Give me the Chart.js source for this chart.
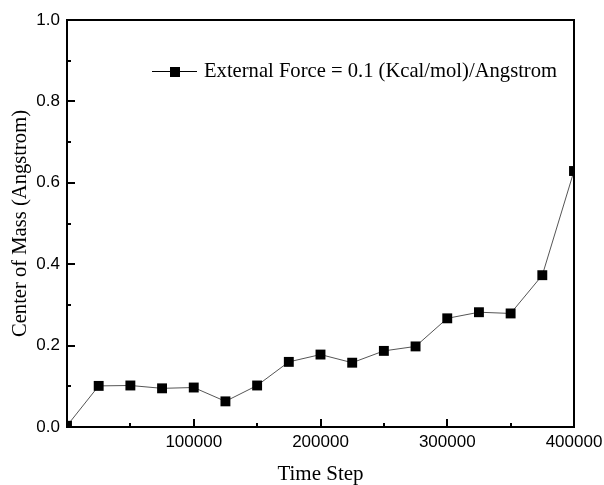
<!doctype html>
<html>
<head>
	<title>Center of Mass vs Time Step</title>
	<script src="https://cdn.jsdelivr.net/npm/chart.js@4/dist/chart.umd.min.js"></script>
	<style type="text/css">
		html, body { margin: 0; padding: 0; background: #fff; }
		#container { width: 604px; height: 485px; }
	</style>
</head>
<body>
	<div id="container">
		<canvas id="canvas"></canvas>
	</div>
	<script>
		// data
		var timeSteps = [0, 25000, 50000, 75000, 100000, 125000, 150000, 175000, 200000,
			225000, 250000, 275000, 300000, 325000, 350000, 375000, 400000];
		var comValues = [0.003, 0.101, 0.102, 0.095, 0.097, 0.063, 0.102, 0.160, 0.178,
			0.158, 0.187, 0.198, 0.267, 0.282, 0.279, 0.373, 0.629];
		var seriesLabel = 'External Force = 0.1 (Kcal/mol)/Angstrom';
		var xMajor = [0, 100000, 200000, 300000, 400000];
		var xMinor = [50000, 150000, 250000, 350000];
		var yMajor = [0, 0.2, 0.4, 0.6, 0.8, 1.0];
		var yMinor = [0.1, 0.3, 0.5, 0.7, 0.9];

		var points = timeSteps.map(function(t, i) { return {x: t, y: comValues[i]}; });

		// frame, inward ticks and the in-plot legend
		var framePlugin = {
			id: 'frame',
			afterDraw: function(chart) {
				var ctx = chart.ctx;
				var a = chart.chartArea;
				var xs = chart.scales.x, ys = chart.scales.y;
				ctx.save();
				ctx.strokeStyle = '#000';
				ctx.lineWidth = 2;
				ctx.strokeRect(a.left, a.top, a.right - a.left, a.bottom - a.top);
				ctx.beginPath();
				yMajor.forEach(function(v) {
					var py = Math.round(ys.getPixelForValue(v));
					ctx.moveTo(a.left, py); ctx.lineTo(a.left + 8, py);
				});
				yMinor.forEach(function(v) {
					var py = Math.round(ys.getPixelForValue(v));
					ctx.moveTo(a.left, py); ctx.lineTo(a.left + 4, py);
				});
				xMajor.forEach(function(v) {
					var px = Math.round(xs.getPixelForValue(v));
					ctx.moveTo(px, a.bottom); ctx.lineTo(px, a.bottom - 8);
				});
				xMinor.forEach(function(v) {
					var px = Math.round(xs.getPixelForValue(v));
					ctx.moveTo(px, a.bottom); ctx.lineTo(px, a.bottom - 4);
				});
				ctx.stroke();

				// legend
				var ly = 71;
				ctx.lineWidth = 1;
				ctx.beginPath();
				ctx.moveTo(152, ly + 0.5); ctx.lineTo(197, ly + 0.5);
				ctx.stroke();
				ctx.fillStyle = '#000';
				ctx.fillRect(170, ly - 4, 10, 10);
				ctx.font = '20.6px "Liberation Serif"';
				ctx.textBaseline = 'middle';
				ctx.textAlign = 'left';
				ctx.fillText(seriesLabel, 204, ly + 1);
				ctx.restore();
			}
		};

		window.onload = function() {
			var ctx = document.getElementById('canvas').getContext('2d');
			window.myChart = new Chart(ctx, {
				type: 'line',
				data: {
					datasets: [{
						label: seriesLabel,
						data: points,
						borderColor: '#555',
						borderWidth: 1,
						pointStyle: 'rect',
						pointRadius: 7,
						pointBackgroundColor: '#000',
						pointBorderColor: '#000',
						pointBorderWidth: 0,
						tension: 0,
						clip: 0
					}]
				},
				options: {
					responsive: true,
					maintainAspectRatio: false,
					animation: false,
					layout: {
						padding: {left: 0, right: 30, top: 20, bottom: 0}
					},
					plugins: {
						legend: {display: false},
						tooltip: {enabled: false}
					},
					scales: {
						x: {
							type: 'linear',
							min: 0,
							max: 400000,
							grid: {display: false, drawTicks: false},
							border: {display: false},
							afterFit: function(scale) {
								scale.height = 58;
								scale.paddingLeft = 0;
								scale.paddingRight = 0;
							},
							ticks: {
								stepSize: 100000,
								padding: 7,
								maxRotation: 0,
								color: '#000',
								font: {family: '"Liberation Sans"', size: 17, lineHeight: 1},
								callback: function(v) { return v === 0 ? '' : String(v); }
							},
							title: {
								display: true,
								text: 'Time Step',
								color: '#000',
								padding: {top: 0, bottom: 0},
								font: {family: '"Liberation Serif"', size: 21, lineHeight: 1}
							}
						},
						y: {
							min: 0,
							max: 1,
							grid: {display: false, drawTicks: false},
							border: {display: false},
							afterFit: function(scale) { scale.width = 67; },
							ticks: {
								stepSize: 0.2,
								padding: 7,
								color: '#000',
								font: {family: '"Liberation Sans"', size: 17},
								callback: function(v) { return Number(v).toFixed(1); }
							},
							title: {
								display: true,
								text: 'Center of Mass (Angstrom)',
								color: '#000',
								padding: {top: 8, bottom: 0},
								font: {family: '"Liberation Serif"', size: 20.6, lineHeight: 1.2}
							}
						}
					}
				},
				plugins: [framePlugin]
			});
		};
	</script>
</body>
</html>
